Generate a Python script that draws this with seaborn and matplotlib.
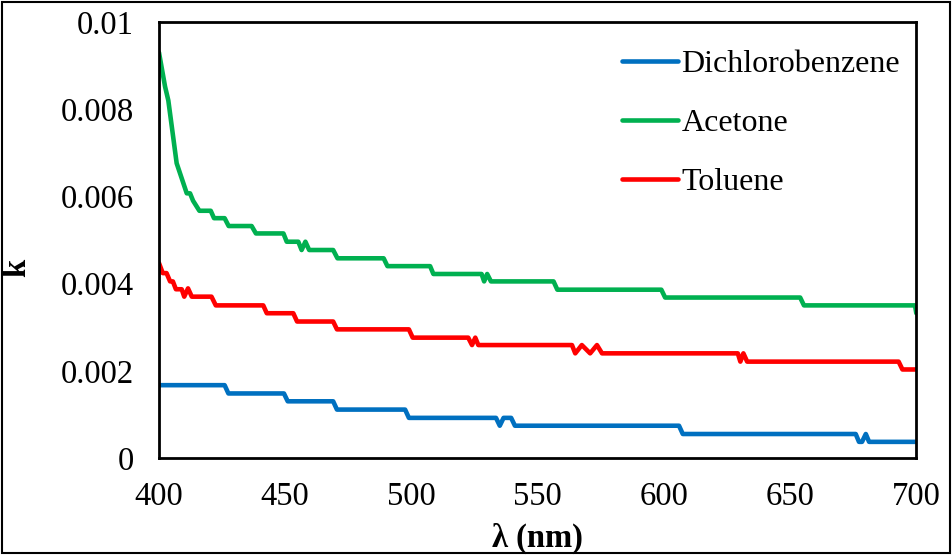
import matplotlib
matplotlib.use("Agg")
import matplotlib.pyplot as plt
import seaborn as sns
import pandas as pd
from matplotlib.patches import Rectangle
from matplotlib.lines import Line2D

# ---- data ----
dcb_wl = [400, 426, 427.5, 449.5, 451, 469, 470.5, 497.5, 499, 533.5, 535, 536.5, 539.5, 541,
          606, 607.5, 676, 677.3, 678.5, 680, 681.3, 700]
dcb_k = [0.00167, 0.00167, 0.00148, 0.00148, 0.0013, 0.0013, 0.00111, 0.00111, 0.00092, 0.00092,
         0.00074, 0.00092, 0.00092, 0.00074, 0.00074, 0.00055, 0.00055, 0.00037, 0.00037, 0.00055,
         0.00037, 0.00037]

ace_wl = [400, 402.4, 403.7, 407, 411, 412.3, 413.5, 416, 420.5, 421.8, 426, 427.6, 436.7, 438.4,
          449.3, 450.6, 455.2, 456.5, 458, 459.5, 469, 470.7, 489, 490.5, 507.4, 508.7, 527.8,
          528.8, 530, 531.5, 556.3, 557.8, 599, 600.5, 654, 655.5, 699.5, 700]
ace_k = [0.0093, 0.00852, 0.0082, 0.00676, 0.00607, 0.00607, 0.0059, 0.00567, 0.00567, 0.0055,
         0.0055, 0.00532, 0.00532, 0.00515, 0.00515, 0.00496, 0.00496, 0.00477, 0.00496, 0.00477,
         0.00477, 0.00458, 0.00458, 0.0044, 0.0044, 0.00422, 0.00422, 0.00405, 0.00422, 0.00405,
         0.00405, 0.00386, 0.00386, 0.00368, 0.00368, 0.0035, 0.0035, 0.00332]

tol_wl = [400, 401.5, 403, 404.4, 405.5, 406.7, 409, 410, 411.5, 413, 420.8, 422.5, 441.3, 442.7,
          453.2, 454.7, 469, 470.5, 499, 500.5, 522.5, 524, 525.3, 526.5, 563.6, 564.9, 567.5,
          570.8, 573.5, 575.5, 629.3, 630.3, 631.5, 633, 693, 694.5, 700]
tol_k = [0.00447, 0.00424, 0.00424, 0.00405, 0.00405, 0.00387, 0.00387, 0.0037, 0.00389, 0.0037,
         0.0037, 0.0035, 0.0035, 0.00332, 0.00332, 0.00313, 0.00313, 0.00295, 0.00295, 0.00276,
         0.00276, 0.00259, 0.00276, 0.00259, 0.00259, 0.0024, 0.00259, 0.0024, 0.00259, 0.0024,
         0.0024, 0.00221, 0.0024, 0.00221, 0.00221, 0.00203, 0.00203]

series_names = ["Dichlorobenzene", "Acetone", "Toluene"]
series_colors = ["#0070C0", "#00B050", "#FF0000"]

x_ticks = [400, 450, 500, 550, 600, 650, 700]
y_ticks = [0, 0.002, 0.004, 0.006, 0.008, 0.01]
y_tick_labels = ["0", "0.002", "0.004", "0.006", "0.008", "0.01"]

frames = []
for name, wl, k in zip(series_names, [dcb_wl, ace_wl, tol_wl], [dcb_k, ace_k, tol_k]):
    frames.append(pd.DataFrame({"wl": wl, "k": k, "series": name}))
df = pd.concat(frames, ignore_index=True)

# ---- style ----
sns.set_style("white")
plt.rcParams["font.family"] = ["Liberation Serif", "DejaVu Serif"]
plt.rcParams["text.color"] = "black"
plt.rcParams["axes.labelcolor"] = "black"
plt.rcParams["xtick.color"] = "black"
plt.rcParams["ytick.color"] = "black"

FS = 23.5
LFS = 23
fig = plt.figure(figsize=(9.52, 5.55), dpi=100)
ax = fig.add_axes([0.167, 0.1748, 0.7955, 0.7856])

sns.lineplot(data=df, x="wl", y="k", hue="series", hue_order=series_names,
             palette=series_colors, sort=False, estimator=None, units="series",
             linewidth=3.3, ax=ax, legend=False)

ax.set_xlim(400, 700)
ax.set_ylim(0, 0.01)
ax.set_xticks(x_ticks)
ax.set_xticklabels([str(t) for t in x_ticks])
ax.set_yticks(y_ticks)
ax.set_yticklabels(y_tick_labels)

for s in ax.spines.values():
    s.set_visible(True)
    s.set_color("black")
    s.set_linewidth(2.0)

ax.tick_params(axis="both", direction="out", length=5, width=1.8, colors="black",
               labelsize=FS)
ax.tick_params(axis="y", pad=13)
ax.tick_params(axis="x", pad=12)

ax.set_xlabel("λ (nm)", fontsize=FS, fontweight="bold", color="black")
ax.set_ylabel("k", fontsize=FS, fontweight="bold", color="black")
ax.yaxis.set_label_coords(-0.168, 0.436)
ax.xaxis.set_label_coords(0.5, -0.148)

handles = [Line2D([0], [0], color=c, lw=3.3, solid_capstyle="round") for c in series_colors]
leg = ax.legend(handles, series_names, loc="upper left", frameon=False, fontsize=LFS,
                handlelength=1.75, handletextpad=0.1, labelspacing=0.93,
                borderpad=0, borderaxespad=0, bbox_to_anchor=(0.6116, 0.937),
                labelcolor="black")

fig.patches.append(Rectangle((0.002, 0.004), 0.996, 0.992, transform=fig.transFigure,
                             fill=False, edgecolor="black", linewidth=1.5))

fig.savefig("out.png", dpi=100)
